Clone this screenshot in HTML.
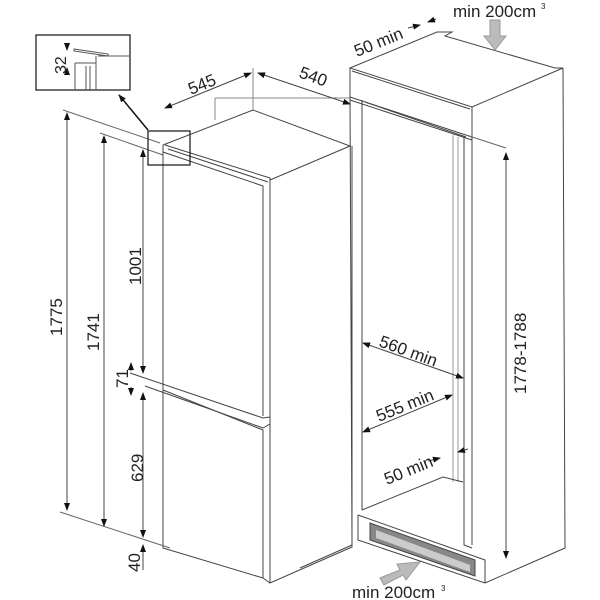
<!DOCTYPE html>
<html><head><meta charset="utf-8"><style>
body{margin:0;background:#fff}
svg{display:block}
text{font-family:"Liberation Sans",sans-serif;fill:#222}
</style></head><body>
<svg width="600" height="600" viewBox="0 0 600 600" xmlns="http://www.w3.org/2000/svg">
<defs>
<marker id="a" markerWidth="8" markerHeight="8" refX="7" refY="4" orient="auto-start-reverse" markerUnits="userSpaceOnUse"><path d="M0,1 L8,4 L0,7 Z" fill="#111"/></marker>
</defs>
<g stroke="#444" stroke-width="1" fill="none">
<!-- left fridge -->
<path d="M163,145 L253,110 L350,146 L270,180"/>
<path d="M165,145 L270,178 L270,583 L352,547 L352,146" />
<path d="M163,152 L263,186 L263,416"/>
<path d="M168,149 L268,182"/>
<path d="M163,145 L163,548 L263,578"/>
<path d="M130,373 L263,418 L270,417"/>
<path d="M145,386 L263,428 L270,424 L270,430"/>
<path d="M163,390 L263,430 L263,578 L270,583"/>
<path d="M215,98 L350,98 M215,98 L215,120 M253,68 L253,110" stroke="#888"/>
<!-- dimension lines -->
<path d="M63,110 L160,143 M100,133 L163,155 M60,512 L170,548" stroke="#666"/>
<line x1="67" y1="113" x2="67" y2="510" marker-start="url(#a)" marker-end="url(#a)"/>
<line x1="104" y1="136" x2="104" y2="526" marker-start="url(#a)" marker-end="url(#a)"/>
<line x1="143" y1="150" x2="143" y2="373" marker-start="url(#a)" marker-end="url(#a)"/>
<line x1="131" y1="363" x2="131" y2="371" marker-start="url(#a)"/>
<line x1="131" y1="395" x2="131" y2="387" marker-start="url(#a)"/>
<line x1="143" y1="393" x2="143" y2="537" marker-start="url(#a)" marker-end="url(#a)"/>
<line x1="143" y1="570" x2="143" y2="545" marker-end="url(#a)"/>
<line x1="165" y1="108" x2="251" y2="73" marker-start="url(#a)" marker-end="url(#a)"/>
<line x1="258" y1="73" x2="350" y2="104" marker-start="url(#a)" marker-end="url(#a)"/>
<!-- inset -->
<rect x="36" y="35" width="94" height="55" stroke="#222" stroke-width="1.3"/>
<path d="M74,49 L108,54 L108,56 L74,51 Z M98,56 L130,56 M75,63 L96,63 L96,90 M75,63 L75,90 M86,66 L86,90 M90,66 L90,90 M96,56 L96,63" stroke="#555"/>
<line x1="67" y1="46" x2="67" y2="50" marker-end="url(#a)"/>
<line x1="67" y1="74" x2="67" y2="68" marker-end="url(#a)"/>
<rect x="148" y="131" width="42" height="34" stroke="#222" stroke-width="1.3"/>
<line x1="148" y1="130" x2="119" y2="95" stroke="#111" stroke-width="1.5" marker-end="url(#a)"/>
<!-- right niche -->
<path d="M350,68 L437,32 L452,32 L445,36 L555,68 L563,68 L472,107 L350,68 Z"/>
<path d="M350,68 L350,97 L472,137 L472,107"/>
<path d="M352,71 L470,109"/>
<path d="M350,100 L472,140"/>
<path d="M563,68 L565,548 L485,583 L358,540 L358,515"/>
<path d="M350,97 L352,545 L300,568"/>
<path d="M362,100 L362,510"/>
<path d="M365,102 L466,137"/>
<path d="M464,137 L464,545 L472,548 M472,137 L472,545"/>
<path d="M453,135 L453,482 M458,137 L458,482" stroke="#999"/>
<path d="M362,510 L443,477 L463,482"/>
<path d="M358,515 L485,560 L485,583"/>
<path d="M370,523 L370,540 L475,576 L475,560 Z" fill="#888"/>
<path d="M376,530 L470,565 L470,572 L376,538 Z" fill="#ccc" stroke="none"/>
<path d="M466,135 L506,148" stroke="#666"/>
<line x1="506" y1="153" x2="506" y2="558" marker-start="url(#a)" marker-end="url(#a)"/>
<line x1="363" y1="343" x2="463" y2="378" marker-start="url(#a)" marker-end="url(#a)"/>
<line x1="363" y1="432" x2="452" y2="395" marker-start="url(#a)" marker-end="url(#a)"/>
<line x1="428" y1="461" x2="440" y2="458" marker-end="url(#a)"/>
<line x1="468" y1="449" x2="458" y2="452" marker-end="url(#a)"/>
<line x1="408" y1="28" x2="420" y2="25" marker-end="url(#a)"/>
<line x1="436" y1="19" x2="428" y2="22" marker-end="url(#a)"/>
</g>
<!-- grey arrows -->
<path d="M490,20 L500,20 L500,36 L506,36 L495,50 L484,36 L490,36 Z" fill="#bbb" stroke="#999"/>
<path d="M384,585 L380,578 L400,570 L397,564 L420,562 L406,580 L403,575 Z" fill="#bbb" stroke="#999"/>
<!-- texts -->
<text x="453" y="17" font-size="17">min 200cm</text><text x="541" y="9" font-size="8">3</text>
<text x="352" y="598" font-size="17">min 200cm</text><text x="441" y="591" font-size="8">3</text>
<text font-size="17" transform="translate(357,57) rotate(-22)">50 min</text>
<text font-size="17" transform="translate(191,95) rotate(-22)">545</text>
<text font-size="17" transform="translate(298,77) rotate(20)">540</text>
<text font-size="17" transform="translate(378,346) rotate(20)">560 min</text>
<text font-size="17" transform="translate(379,422) rotate(-22)">555 min</text>
<text font-size="17" transform="translate(387,485) rotate(-22)">50 min</text>
<text font-size="17" transform="translate(526,394) rotate(-90)">1778-1788</text>
<text font-size="17" transform="translate(62,336) rotate(-90)">1775</text>
<text font-size="17" transform="translate(99,351) rotate(-90)">1741</text>
<text font-size="17" transform="translate(141,285) rotate(-90)">1001</text>
<text font-size="17" transform="translate(128,388) rotate(-90)">71</text>
<text font-size="17" transform="translate(143,482) rotate(-90)">629</text>
<text font-size="17" transform="translate(140,572) rotate(-90)">40</text>
<text font-size="16" transform="translate(66,74) rotate(-90)">32</text>
</svg>
</body></html>
